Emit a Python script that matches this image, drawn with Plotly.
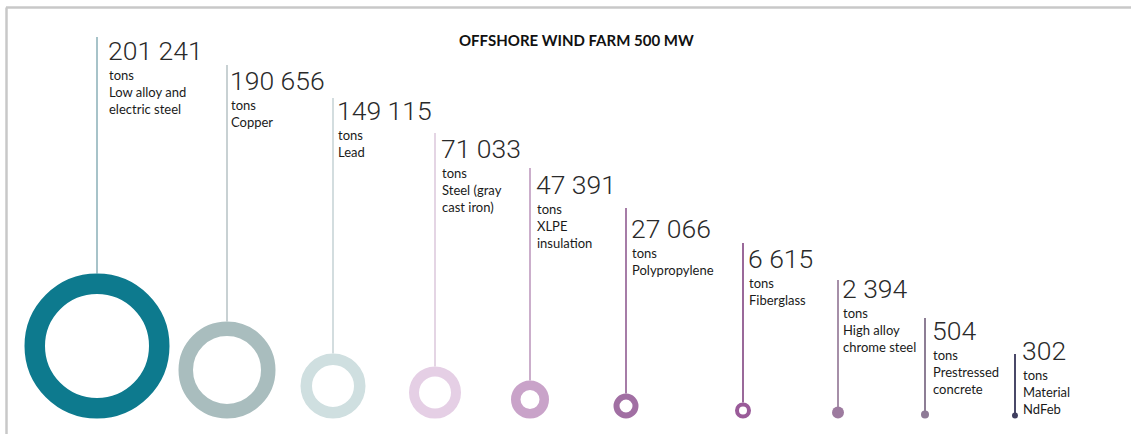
import plotly.graph_objects as go

# ---------------- data ----------------
materials = ["Low alloy and<br>electric steel", "Copper", "Lead", "Steel (gray<br>cast iron)",
             "XLPE<br>insulation", "Polypropylene", "Fiberglass", "High alloy<br>chrome steel",
             "Prestressed<br>concrete", "Material<br>NdFeb"]
tons = [201241, 190656, 149115, 71033, 47391, 27066, 6615, 2394, 504, 302]
unit = "tons"
title = "OFFSHORE WIND FARM 500 MW"

# ---------------- layout / style (pixel space) ----------------
W, H = 1131, 434
X_POS = [97, 227, 333, 435, 530, 626, 743, 838, 925, 1015]
TEXT_X = [109, 231, 338, 442, 537, 632, 749, 843, 933, 1023]
NUM_BASELINE = [62, 92, 122, 160, 196, 240, 270, 300, 342, 362]
LINE_TOP = [37, 65, 98, 133, 168, 208, 243, 280, 318, 354]
R_OUT = [72.5, 48.5, 32.5, 26, 19, 12.5, 8, 6, 4, 3]
R_IN = [52, 34, 21, 16, 9.5, 6.5, 4, 0, 0, 0]
RING_BASE = 418.5
RING_COLORS = ['#0d7a8e', '#a9bdbe', '#cfdfe0', '#e5cfe5', '#c9a3c9',
               '#a16fa3', '#9a5b99', '#9d7b9f', '#8e7a96', '#3f3e5f']
LINE_COLORS = ['#a7c3c9', '#c8d1d3', '#d3dddf', '#e4d5e4', '#cbaecb',
               '#a67ca7', '#9a699a', '#a68fa8', '#8d7e95', '#4a4868']
NUM_FONT = dict(family="Roboto, Arial, sans-serif", size=26.5, color="#2a2a2a", weight=300)
LBL_FONT = dict(family="Lato, Carlito, sans-serif", size=13, color="#1a1a1a")

fig = go.Figure()

cy = [RING_BASE - r for r in R_OUT]

# connector lines
for i in range(len(tons)):
    y_end = cy[i] - R_OUT[i] if R_IN[i] > 0 else cy[i]
    fig.add_trace(go.Scatter(x=[X_POS[i], X_POS[i]], y=[LINE_TOP[i], y_end], mode="lines",
                             line=dict(color=LINE_COLORS[i], width=2), hoverinfo="skip",
                             showlegend=False))

# rings / dots
sizes, lw, fill = [], [], []
for i in range(len(tons)):
    if R_IN[i] > 0:
        sizes.append(R_OUT[i] + R_IN[i])
        lw.append(R_OUT[i] - R_IN[i])
        fill.append("white")
    else:
        sizes.append(2 * R_OUT[i])
        lw.append(0)
        fill.append(RING_COLORS[i])
fig.add_trace(go.Scatter(x=X_POS, y=cy, mode="markers",
                         marker=dict(symbol="circle", size=sizes, color=fill, opacity=1,
                                     line=dict(color=RING_COLORS, width=lw)),
                         customdata=tons, hovertemplate="%{customdata} tons<extra></extra>",
                         cliponaxis=False, showlegend=False))

# texts
for i, v in enumerate(tons):
    num = f"{v:,}".replace(",", " ")
    fig.add_annotation(x=TEXT_X[i] - 3, y=NUM_BASELINE[i] - 28.6, text=num, showarrow=False,
                       xanchor="left", yanchor="top", font=NUM_FONT)
    fig.add_annotation(x=TEXT_X[i] - 2, y=NUM_BASELINE[i] + 2.8, text=f"{unit}<br>{materials[i]}",
                       showarrow=False, xanchor="left", yanchor="top", align="left", font=LBL_FONT)

# title
fig.add_annotation(x=576, y=40, text=f"<b>{title}</b>", showarrow=False, xanchor="center",
                   yanchor="middle", font=dict(family="Lato, Carlito, sans-serif", size=15, color="#111"))

# frame lines
fig.add_shape(type="line", x0=6, x1=W, y0=7.5, y1=7.5, line=dict(color="#c8c8c8", width=2.5))
fig.add_shape(type="line", x0=6.5, x1=6.5, y0=7.5, y1=H, line=dict(color="#c8c8c8", width=2.5))

fig.update_layout(width=W, height=H, margin=dict(l=0, r=0, t=0, b=0), autosize=False,
                  paper_bgcolor="white", plot_bgcolor="white", showlegend=False,
                  xaxis=dict(range=[0, W], visible=False, fixedrange=True),
                  yaxis=dict(range=[H, 0], visible=False, fixedrange=True))

fig.write_html("out.html")
